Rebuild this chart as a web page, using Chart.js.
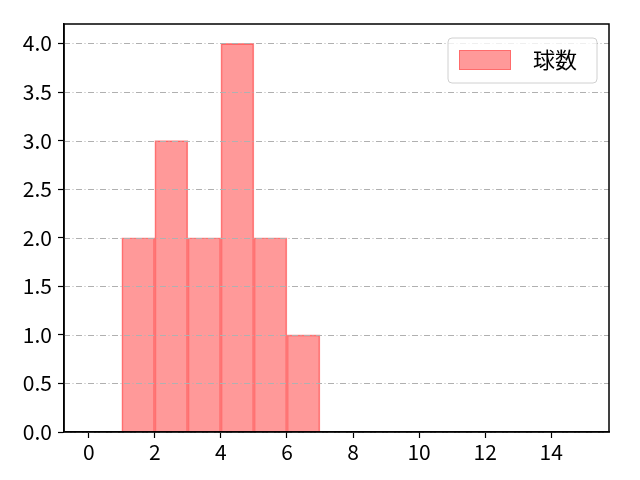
<!DOCTYPE html>
<html><head><meta charset="utf-8">
<script src="https://cdn.jsdelivr.net/npm/chart.js@4/dist/chart.umd.min.js"></script>
<style>html,body{margin:0;padding:0;background:#fff}#w{width:640px;height:480px}</style>
</head><body><div id="w"><canvas id="c" width="640" height="480"></canvas></div>
<script>
const binCenters = [1.5, 2.5, 3.5, 4.5, 5.5, 6.5];
const counts = [2, 3, 2, 4, 2, 1];
const xTicks = [0, 2, 4, 6, 8, 10, 12, 14];
const yTicks = [0, 0.5, 1, 1.5, 2, 2.5, 3, 3.5, 4];
const seriesName = '球数';
const FONT = '"Noto Sans CJK JP", "DejaVu Sans", sans-serif';

const gridOnTop = {
  id: 'gridOnTop',
  afterDatasetsDraw(chart) {
    const ctx = chart.ctx, a = chart.chartArea, ys = chart.scales.y;
    ctx.save();
    ctx.strokeStyle = '#b0b0b0';
    ctx.lineWidth = 1;
    ctx.setLineDash([6, 2.5, 1, 2.5]);
    yTicks.forEach(v => {
      const y = Math.round(ys.getPixelForValue(v)) + 0.5;
      ctx.beginPath();
      ctx.moveTo(a.left, y);
      ctx.lineTo(a.right, y);
      ctx.stroke();
    });
    ctx.restore();
  }
};

const legendPlugin = {
  id: 'boxLegend',
  afterDraw(chart) {
    const ctx = chart.ctx;
    const a = chart.chartArea;
    const x0 = a.right - 161, y0 = a.top + 14, w = 149, h = 45;
    ctx.save();
    ctx.beginPath();
    const r = 4;
    ctx.moveTo(x0 + r, y0);
    ctx.arcTo(x0 + w, y0, x0 + w, y0 + h, r);
    ctx.arcTo(x0 + w, y0 + h, x0, y0 + h, r);
    ctx.arcTo(x0, y0 + h, x0, y0, r);
    ctx.arcTo(x0, y0, x0 + w, y0, r);
    ctx.closePath();
    ctx.fillStyle = 'rgba(255,255,255,0.8)';
    ctx.fill();
    ctx.strokeStyle = '#d0d0d0';
    ctx.lineWidth = 1;
    ctx.stroke();
    ctx.fillStyle = 'rgba(255,0,0,0.4)';
    ctx.fillRect(x0 + 11, y0 + 12, 52, 20);
    ctx.strokeStyle = 'rgba(255,0,0,0.3)';
    ctx.strokeRect(x0 + 11.5, y0 + 12.5, 51, 19);
    ctx.fillStyle = '#000';
    ctx.font = '22px ' + FONT;
    ctx.textBaseline = 'middle';
    ctx.fillText(seriesName, x0 + 85, y0 + 22);
    ctx.restore();
  }
};

const frame = {
  id: 'frame',
  afterDraw(chart) {
    const ctx = chart.ctx, a = chart.chartArea;
    ctx.save();
    ctx.strokeStyle = '#000';
    ctx.lineWidth = 1.5;
    ctx.strokeRect(a.left, a.top, a.right - a.left, a.bottom - a.top);
    ctx.restore();
  }
};

new Chart(document.getElementById('c'), {
  type: 'bar',
  data: {
    datasets: [{
      label: seriesName,
      data: binCenters.map((x, i) => ({x: x, y: counts[i]})),
      backgroundColor: 'rgba(255,0,0,0.4)',
      borderColor: 'rgba(255,0,0,0.45)',
      borderWidth: 1,
      barPercentage: 1,
      categoryPercentage: 1,
      grouped: false
    }]
  },
  plugins: [gridOnTop, legendPlugin, frame],
  options: {
    responsive: false,
    animation: false,
    devicePixelRatio: 1,
    layout: {padding: {left: 0, top: 24, right: 31, bottom: 0}},
    plugins: {legend: {display: false}, tooltip: {enabled: false}},
    scales: {
      x: {
        type: 'linear',
        offset: false,
        min: -0.75, max: 15.75,
        afterBuildTicks(s) { s.ticks = xTicks.map(v => ({value: v})); },
        afterFit(s) { s.height = 48; },
        grid: {display: true, offset: false, drawOnChartArea: false, drawTicks: true, tickLength: 6, color: '#000', tickWidth: 1.2},
        border: {display: true, color: '#000', width: 1.5},
        ticks: {color: '#000', font: {family: FONT, size: 21}, padding: 1, autoSkip: false, maxRotation: 0,
          callback: v => String(v)}
      },
      y: {
        min: 0, max: 4.2,
        afterBuildTicks(s) { s.ticks = yTicks.map(v => ({value: v})); },
        afterFit(s) { s.width = 64; },
        grid: {display: true, drawOnChartArea: false, drawTicks: true, tickLength: 6, color: '#000', tickWidth: 1.2},
        border: {display: true, color: '#000', width: 1.5},
        ticks: {color: '#000', font: {family: FONT, size: 21}, padding: 6, autoSkip: false,
          callback: v => Number(v).toFixed(1)}
      }
    }
  }
});
</script>
</body></html>
